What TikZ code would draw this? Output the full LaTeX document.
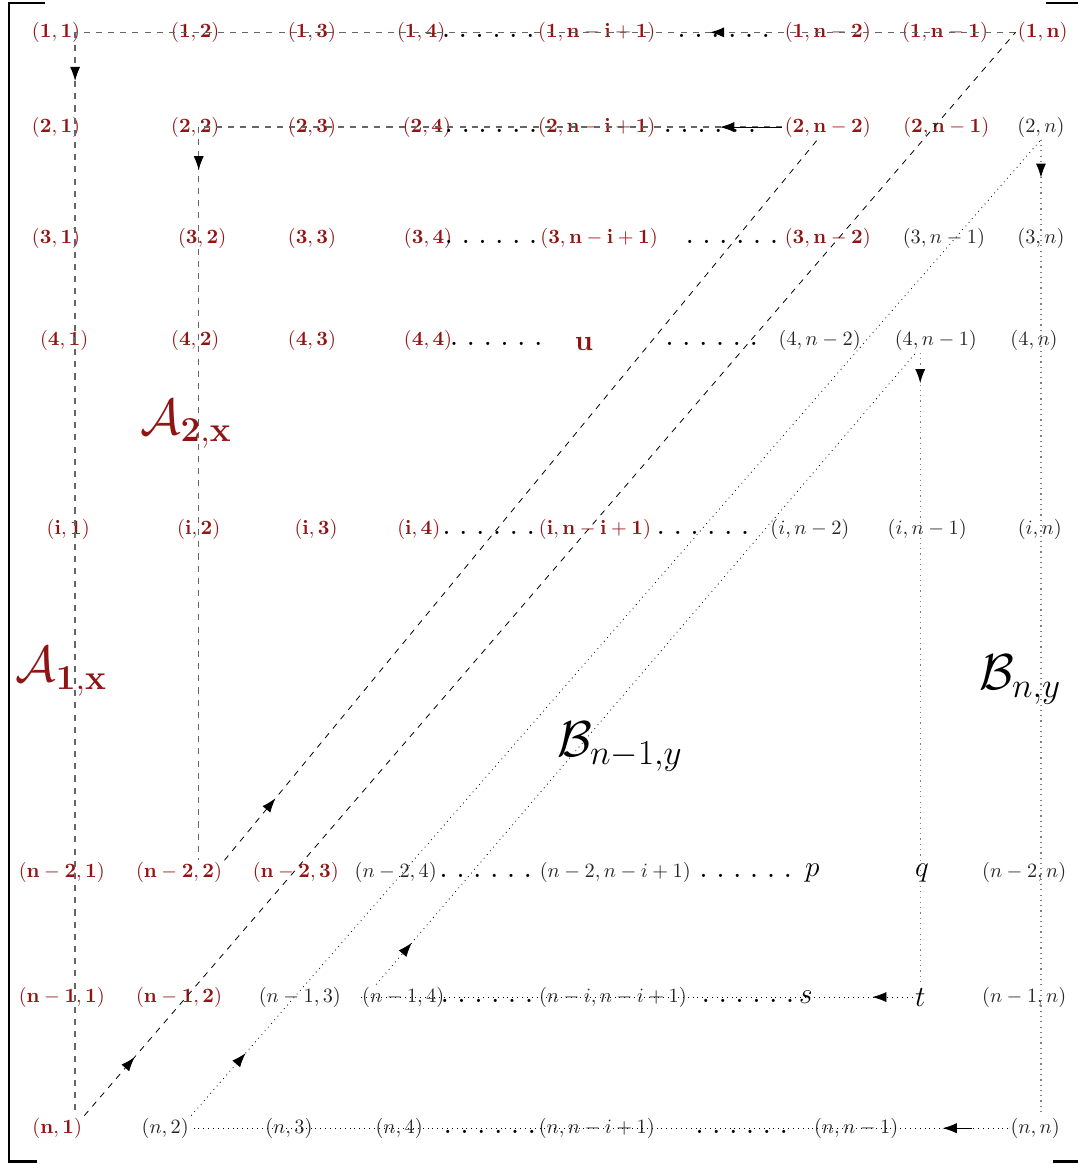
\documentclass[tikz,border=0pt]{standalone}
\usepackage{amsmath,amsfonts}
\usetikzlibrary{arrows,arrows.meta,calc,decorations.markings}
\definecolor{matred}{RGB}{145,20,20}
\tikzstyle{rent}=[inner sep=1pt,text=matred]
\tikzstyle{bent}=[inner sep=1pt,text=black!85]
\tikzstyle{dotrow}=[inner sep=1pt,font=\bfseries]
\tikzstyle{pent}=[inner sep=1pt,font=\Large]
\tikzstyle{biglab}=[inner sep=0pt,font=\fontsize{24}{28}\selectfont]
\tikzstyle{brk}=[line width=1.2pt]
\tikzstyle{aline}=[dashed,semithick,black!60]
\tikzstyle{adiag}=[dashed,black]
\tikzstyle{bline}=[dotted,semithick,black!50]
\tikzstyle{bdot}=[dotted,black]
\tikzset{arrat/.style={postaction={decorate,decoration={markings,mark=at position #1 with {\arrow[black]{>}}}}}}

\begin{document}
\begin{tikzpicture}[>={Latex[length=7pt,width=5pt]}]
\useasboundingbox (0,0) rectangle (18.66,-20.15);
% brackets
\draw[brk] (0.78,-0.05) -- (0.16,-0.05) -- (0.16,-20.11) -- (0.64,-20.11);
\draw[brk] (18.11,-0.05) -- (18.80,-0.05) -- (18.80,-20.11) -- (18.23,-20.11);
% row 1
\node[rent] (r1c1) at (0.97,-0.56) {$(\mathbf{1},\mathbf{1})$};
\node[rent] (r1c2) at (3.38,-0.56) {$(\mathbf{1},\mathbf{2})$};
\node[rent] (r1c3) at (5.40,-0.56) {$(\mathbf{1},\mathbf{3})$};
\node[rent] (r1c4) at (7.29,-0.56) {$(\mathbf{1},\mathbf{4})$};
\node[dotrow] (d1a) at (8.45,-0.56) {\vphantom{(}. . . . . .};
\node[rent] (r1ck) at (10.33,-0.56) {$(\mathbf{1},\mathbf{n-i+1})$};
\node[dotrow] (d1b) at (12.53,-0.56) {\vphantom{(}. . . . . .};
\node[rent] (r1cn2) at (14.33,-0.56) {$(\mathbf{1},\mathbf{n-2})$};
\node[rent] (r1cn1) at (16.36,-0.56) {$(\mathbf{1},\mathbf{n-1})$};
\node[rent] (r1cn) at (18.05,-0.56) {$(\mathbf{1},\mathbf{n})$};
% row 2
\node[rent] (r2c1) at (0.97,-2.20) {$(\mathbf{2},\mathbf{1})$};
\node[rent] (r2c2) at (3.38,-2.20) {$(\mathbf{2},\mathbf{2})$};
\node[rent] (r2c3) at (5.40,-2.20) {$(\mathbf{2},\mathbf{3})$};
\node[rent] (r2c4) at (7.39,-2.20) {$(\mathbf{2},\mathbf{4})$};
\node[dotrow] (d2a) at (8.50,-2.20) {\vphantom{(}. . . . . .};
\node[rent] (r2ck) at (10.33,-2.20) {$(\mathbf{2},\mathbf{n-i+1})$};
\node[dotrow] (d2b) at (12.29,-2.20) {\vphantom{(}. . . . . .};
\node[rent] (r2cn2) at (14.33,-2.20) {$(\mathbf{2},\mathbf{n-2})$};
\node[rent] (r2cn1) at (16.38,-2.20) {$(\mathbf{2},\mathbf{n-1})$};
\node[bent] (r2cn) at (18.02,-2.20) {$(2,n)$};
% row 3
\node[rent] (r3c1) at (0.97,-4.12) {$(\mathbf{3},\mathbf{1})$};
\node[rent] (r3c2) at (3.50,-4.12) {$(\mathbf{3},\mathbf{2})$};
\node[rent] (r3c3) at (5.40,-4.12) {$(\mathbf{3},\mathbf{3})$};
\node[rent] (r3c4) at (7.41,-4.12) {$(\mathbf{3},\mathbf{4})$};
\node[dotrow] (d3a) at (8.50,-4.12) {\vphantom{(}. . . . . .};
\node[rent] (r3ck) at (10.37,-4.12) {$(\mathbf{3},\mathbf{n-i+1})$};
\node[dotrow] (d3b) at (12.67,-4.12) {\vphantom{(}. . . . . .};
\node[rent] (r3cn2) at (14.33,-4.12) {$(\mathbf{3},\mathbf{n-2})$};
\node[bent] (r3cn1) at (16.34,-4.12) {$(3,n-1)$};
\node[bent] (r3cn) at (18.02,-4.12) {$(3,n)$};
% row 4
\node[rent] (r4c1) at (1.11,-5.89) {$(\mathbf{4},\mathbf{1})$};
\node[rent] (r4c2) at (3.38,-5.89) {$(\mathbf{4},\mathbf{2})$};
\node[rent] (r4c3) at (5.40,-5.89) {$(\mathbf{4},\mathbf{3})$};
\node[rent] (r4c4) at (7.41,-5.89) {$(\mathbf{4},\mathbf{4})$};
\node[dotrow] (d4a) at (8.59,-5.89) {\vphantom{(}. . . . . .};
\node[rent,font=\Large] (u) at (10.11,-5.95) {$\mathbf{u}$};
\node[dotrow] (d4b) at (12.32,-5.89) {\vphantom{(}. . . . . .};
\node[bent] (r4cn2) at (14.19,-5.89) {$(4,n-2)$};
\node[bent] (r4cn1) at (16.20,-5.89) {$(4,n-1)$};
\node[bent] (r4cn) at (17.90,-5.89) {$(4,n)$};
% row i
\node[rent] (ric1) at (1.18,-9.16) {$(\mathbf{i},\mathbf{1})$};
\node[rent] (ric2) at (3.44,-9.16) {$(\mathbf{i},\mathbf{2})$};
\node[rent] (ric3) at (5.47,-9.16) {$(\mathbf{i},\mathbf{3})$};
\node[rent] (ric4) at (7.25,-9.16) {$(\mathbf{i},\mathbf{4})$};
\node[dotrow] (dia) at (8.46,-9.16) {\vphantom{(}. . . . . .};
\node[rent] (rick) at (10.30,-9.16) {$(\mathbf{i},\mathbf{n-i+1})$};
\node[dotrow] (dib) at (12.17,-9.16) {\vphantom{(}. . . . . .};
\node[bent] (ricn2) at (14.02,-9.16) {$(i,n-2)$};
\node[bent] (ricn1) at (16.05,-9.16) {$(i,n-1)$};
\node[bent] (ricn) at (18.00,-9.16) {$(i,n)$};
% row n-2
\node[rent] (rm2c1) at (1.07,-15.11) {$(\mathbf{n-2},\mathbf{1})$};
\node[rent] (rm2c2) at (3.10,-15.11) {$(\mathbf{n-2},\mathbf{2})$};
\node[rent] (rm2c3) at (5.12,-15.11) {$(\mathbf{n-2},\mathbf{3})$};
\node[bent] (rm2c4) at (6.85,-15.11) {$(n-2,4)$};
\node[dotrow] (dm2a) at (8.41,-15.11) {\vphantom{(}. . . . . .};
\node[bent] (rm2ck) at (10.65,-15.11) {$(n-2,n-i+1)$};
\node[dotrow] (dm2b) at (12.91,-15.11) {\vphantom{(}. . . . . .};
\node[pent] (p) at (14.06,-15.11) {$p$};
\node[pent] (q) at (15.96,-15.11) {$q$};
\node[bent] (rm2cn) at (17.73,-15.11) {$(n-2,n)$};
% row n-1
\node[rent] (rm1c1) at (1.07,-17.26) {$(\mathbf{n-1},\mathbf{1})$};
\node[rent] (rm1c2) at (3.10,-17.26) {$(\mathbf{n-1},\mathbf{2})$};
\node[bent] (rm1c3) at (5.19,-17.26) {$(n-1,3)$};
\node[bent] (rm1c4) at (6.98,-17.26) {$(n-1,4)$};
\node[dotrow] (dm1a) at (8.43,-17.26) {\vphantom{(}. . . . . .};
\node[bent] (rm1ck) at (10.61,-17.26) {$(n-i,n-i+1)$};
\node[dotrow] (dm1b) at (12.95,-17.26) {\vphantom{(}. . . . . .};
\node[pent] (s) at (13.95,-17.26) {$s$};
\node[pent] (t) at (15.93,-17.26) {$t$};
\node[bent] (rm1cn) at (17.73,-17.26) {$(n-1,n)$};
% row n
\node[rent] (rnc1) at (0.99,-19.53) {$(\mathbf{n},\mathbf{1})$};
\node[bent] (rnc2) at (2.86,-19.53) {$(n,2)$};
\node[bent] (rnc3) at (5.00,-19.53) {$(n,3)$};
\node[bent] (rnc4) at (6.91,-19.53) {$(n,4)$};
\node[dotrow] (dna) at (8.48,-19.53) {\vphantom{(}. . . . . .};
\node[bent] (rnck) at (10.33,-19.53) {$(n,n-i+1)$};
\node[dotrow] (dnb) at (12.84,-19.53) {\vphantom{(}. . . . . .};
\node[bent] (rncn1) at (14.82,-19.53) {$(n,n-1)$};
\node[bent] (rncn) at (17.92,-19.53) {$(n,n)$};
% set labels
\node[biglab,text=matred] (A1) at (1.06,-11.63) {$\mathcal{A}_{\mathbf{1,x}}$};
\node[biglab,text=matred] (A2) at (3.22,-7.34) {$\mathcal{A}_{\mathbf{2,x}}$};
\node[biglab] (Bm1) at (10.73,-12.93) {$\mathcal{B}_{n-1,y}$};
\node[biglab] (Bn) at (17.66,-11.77) {$\mathcal{B}_{n,y}$};
% cycle A1
\coordinate (A1c) at (1.30,-0.56);
\draw[aline,arrat=0.325] (r1cn.west) -- (A1c);
\draw[aline,arrat=0.045] (A1c) -- (A1c |- rnc1.north);
\draw[adiag,arrat=0.054] (rnc1.north east) -- (r1cn.west);
% cycle A2
\coordinate (A2c) at (3.44,-2.20);
\draw[aline] (r2cn2.west) -- (A2c);
\draw[->] (r2cn2.west) -- ($(r2ck.east)!0.5!(r2cn2.west)$);
\draw[aline,arrat=0.059] (A2c) -- (A2c |- rm2c2.north);
\draw[adiag,arrat=0.086] (rm2c2.north east) -- (r2cn2);
% cycle B_n
\draw[bline,arrat=0.039] (r2cn.south) -- (r2cn.south |- rncn.north);
\draw[bdot] (rncn.west) -- (rnc2.east);
\draw[->] ($(rncn1.east)!0.66!(rncn.west)$) -- ($(rncn1.east)!0.39!(rncn.west)$);
\draw[bdot,arrat=0.064] (rnc2.north east) -- (r2cn.south);
% cycle B_{n-1}
\draw[bline,arrat=0.048] (t |- r4cn1.south) -- (t.north);
\draw[bdot,arrat=0.073] (t.west) -- (rm1c4.west);
\draw[bdot,arrat=0.066] (rm1c4.155) -- (r4cn1.212);
\end{tikzpicture}
\end{document}
